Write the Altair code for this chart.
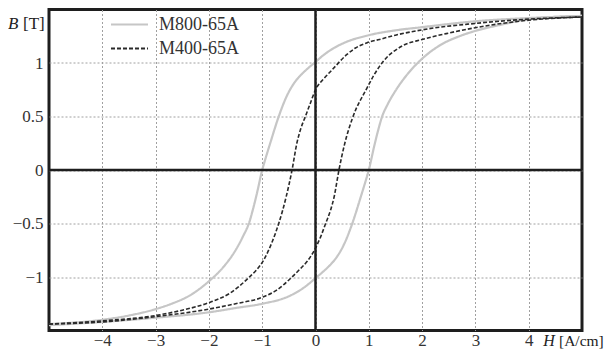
import altair as alt
import pandas as pd

# ---- data (H in A/cm, B in T) ----
materials = ["M800-65A", "M400-65A"]

# M800-65A, descending branch (upper-left of loop)
m800_desc_H = [5, 4, 3, 2, 1.5, 1, 0.5, 0.28, 0.14, 0, -0.12, -0.25, -0.36, -0.54, -0.69, -0.85, -0.93, -1.0, -1.1, -1.18, -1.25, -1.35, -1.5, -1.7, -2.0, -2.35, -2.7, -3, -3.5, -4, -5]
m800_desc_B = [1.44, 1.42, 1.39, 1.335, 1.305, 1.26, 1.18, 1.12, 1.07, 1.01, 0.96, 0.9, 0.84, 0.69, 0.5, 0.25, 0.12, 0.0, -0.22, -0.38, -0.5, -0.61, -0.75, -0.89, -1.04, -1.17, -1.25, -1.3, -1.36, -1.40, -1.44]
# M800-65A, ascending branch (lower-right of loop)
m800_asc_H = [-5, -4, -3, -2, -1.5, -1, -0.5, -0.28, -0.14, 0, 0.12, 0.25, 0.36, 0.54, 0.69, 0.85, 0.93, 1.0, 1.1, 1.18, 1.25, 1.35, 1.5, 1.7, 2.0, 2.35, 2.7, 3, 3.5, 4, 5]
m800_asc_B = [-1.45, -1.42, -1.38, -1.33, -1.29, -1.25, -1.18, -1.12, -1.07, -1.01, -0.96, -0.9, -0.84, -0.69, -0.5, -0.25, -0.12, 0.0, 0.22, 0.38, 0.5, 0.61, 0.74, 0.88, 1.04, 1.17, 1.25, 1.3, 1.36, 1.41, 1.44]

# M400-65A, descending branch
m400_desc_H = [5, 4, 3, 2, 1.5, 1.2, 0.97, 0.75, 0.59, 0.3, 0.15, 0, -0.1, -0.19, -0.28, -0.35, -0.44, -0.55, -0.69, -0.82, -0.97, -1.1, -1.24, -1.6, -2, -2.5, -3, -4, -5]
m400_desc_B = [1.43, 1.41, 1.37, 1.31, 1.26, 1.22, 1.19, 1.14, 1.08, 0.93, 0.85, 0.75, 0.62, 0.5, 0.38, 0.25, 0.0, -0.25, -0.5, -0.68, -0.84, -0.93, -1.0, -1.15, -1.24, -1.31, -1.36, -1.41, -1.44]
# M400-65A, ascending branch
m400_asc_H = [-5, -4, -3, -2, -1.5, -1, -0.75, -0.44, -0.3, -0.15, 0, 0.1, 0.19, 0.28, 0.35, 0.44, 0.55, 0.69, 0.97, 1.1, 1.28, 1.63, 2, 2.5, 3, 4, 5]
m400_asc_B = [-1.44, -1.42, -1.37, -1.30, -1.25, -1.19, -1.13, -1.0, -0.93, -0.85, -0.73, -0.62, -0.5, -0.38, -0.25, 0.0, 0.25, 0.48, 0.77, 0.89, 1.02, 1.16, 1.22, 1.28, 1.33, 1.40, 1.43]

x_ticks = [-4, -3, -2, -1, 0, 1, 2, 3, 4]
y_ticks = [-1, -0.5, 0, 0.5, 1]

rows = []
for mat, branch, hs, bs in [
    (materials[0], "m800_desc", m800_desc_H, m800_desc_B),
    (materials[0], "m800_asc", m800_asc_H, m800_asc_B),
    (materials[1], "m400_desc", m400_desc_H, m400_desc_B),
    (materials[1], "m400_asc", m400_asc_H, m400_asc_B),
]:
    for h, b in zip(hs, bs):
        rows.append({"material": mat, "branch": branch, "H": h, "B": b})
df = pd.DataFrame(rows)

FONT = "Liberation Serif"
W, HT = 533, 321

xs = alt.Scale(domain=[-5, 5], nice=False, zero=False)
ys = alt.Scale(domain=[-1.5, 1.5], nice=False, zero=False)

color_scale = alt.Scale(domain=materials, range=["#c6c6c6", "#2a2a2a"])
dash_scale = alt.Scale(domain=materials, range=[[1, 0], [4, 2]])

legend = alt.Legend(
    title=None, orient="none", legendX=61, legendY=5, padding=0,
    symbolType="stroke", symbolSize=1369, symbolStrokeWidth=2,
    labelFont=FONT, labelFontSize=18, labelColor="#333", labelOffset=10,
    rowPadding=4, clipHeight=20,
)

x_enc = alt.X("H:Q", scale=xs, axis=alt.Axis(
    values=x_ticks, title=None, grid=True, domain=False, ticks=False,
    labelPadding=1.5, format="~g"))
y_enc = alt.Y("B:Q", scale=ys, axis=alt.Axis(
    values=y_ticks, title=None, grid=True, domain=False, ticks=False,
    labelPadding=6, format="~g"))

zero_df = pd.DataFrame({"v": [0]})
zero_x = alt.Chart(zero_df).mark_rule(color="#1e1e1e", strokeWidth=2.5).encode(
    x=alt.X("v:Q", scale=xs))
zero_y = alt.Chart(zero_df).mark_rule(color="#1e1e1e", strokeWidth=2.5).encode(
    y=alt.Y("v:Q", scale=ys))

def loop(mat, width):
    return alt.Chart(df).transform_filter(
        alt.datum.material == mat
    ).mark_line(interpolate="monotone", strokeWidth=width).encode(
        x=x_enc, y=y_enc,
        color=alt.Color("material:N", scale=color_scale, legend=legend),
        strokeDash=alt.StrokeDash("material:N", scale=dash_scale, legend=legend),
        detail="branch:N",
        order="H:Q",
    )

gray = loop(materials[0], 2.2)
dashed = loop(materials[1], 1.6)

def label(txt, x, y, italic=False, align="left", size=17):
    return alt.Chart(pd.DataFrame({"t": [txt]})).mark_text(
        font=FONT, fontSize=size, fontStyle="italic" if italic else "normal",
        align=align, baseline="middle", color="#222",
    ).encode(text="t:N", x=alt.value(x), y=alt.value(y))

b_lab = label("B", -41, 14, italic=True)
b_unit = label("[T]", -26, 14)
h_lab = label("H", 500, HT + 10, italic=True, align="center", size=16)
h_unit = label("[A/cm]", 510, HT + 10, size=15.5)

chart = alt.layer(
    gray, dashed, zero_x, zero_y, b_lab, b_unit, h_lab, h_unit
).properties(
    width=W, height=HT,
    padding={"left": 41, "top": 1.5, "right": 22, "bottom": 18.5},
    autosize=alt.AutoSizeParams(type="none"),
    background="white",
).configure_view(
    stroke="#1e1e1e", strokeWidth=3
).configure_axis(
    labelFont=FONT, labelFontSize=17, labelColor="#333",
    gridColor="#a0a0a0", gridDash=[2, 2], gridWidth=1,
)

chart.save("out.html", embed_options={"renderer": "svg", "actions": False})
